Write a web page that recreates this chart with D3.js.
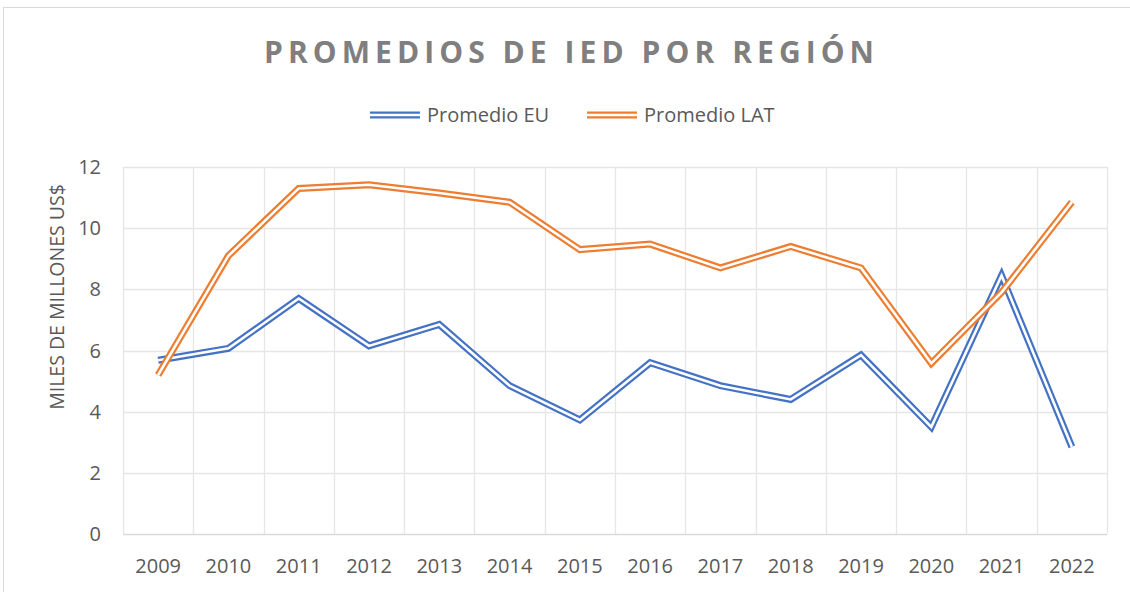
<!DOCTYPE html>
<html lang="es">

<head>
    <meta charset="UTF-8">
    <title>Promedios de IED por región</title>
    <script src="https://d3js.org/d3.v7.min.js"></script>
    <style>
        body { margin: 0; background: #fff; }
        text { font-family: "Open Sans", "Liberation Sans", sans-serif; }
    </style>
</head>

<body>
    <script>
        var years = ["2009", "2010", "2011", "2012", "2013", "2014", "2015",
            "2016", "2017", "2018", "2019", "2020", "2021", "2022"];
        var promedioEU = [5.68, 6.07, 7.7, 6.15, 6.85, 4.85, 3.73, 5.6, 4.85, 4.4, 5.85, 3.5, 8.45, 2.85];
        var promedioLAT = [5.2, 9.1, 11.3, 11.42, 11.15, 10.85, 9.3, 9.48, 8.7, 9.4, 8.7, 5.58, 7.9, 10.85];
        var yTicks = [0, 2, 4, 6, 8, 10, 12];

        var series = [
            { name: "Promedio EU", values: promedioEU, color: "#4472C4" },
            { name: "Promedio LAT", values: promedioLAT, color: "#ED7D31" }
        ];

        var width = 1130;
        var height = 592;
        var margin = { top: 167, right: 23, bottom: 58, left: 123 };

        var svg = d3.select("body")
            .append("svg")
            .attr("width", width)
            .attr("height", height);

        // chart frame
        svg.append("rect")
            .attr("x", 3.5)
            .attr("y", 7.5)
            .attr("width", 1200)
            .attr("height", 700)
            .attr("fill", "#fff")
            .attr("stroke", "#d9d9d9");

        var x = d3.scaleBand()
            .domain(years)
            .range([margin.left, width - margin.right]);
        var y = d3.scaleLinear()
            .domain([0, 12])
            .range([height - margin.bottom, margin.top]);

        // horizontal gridlines
        svg.append("g")
            .selectAll("line")
            .data(yTicks.filter(d => d > 0))
            .enter()
            .append("line")
            .attr("x1", margin.left)
            .attr("x2", width - margin.right)
            .attr("y1", d => Math.round(y(d)) + 0.5)
            .attr("y2", d => Math.round(y(d)) + 0.5)
            .attr("stroke", "#e6e6e6")
            .attr("stroke-width", 1.3);

        // vertical gridlines at category boundaries
        svg.append("g")
            .selectAll("line")
            .data(years)
            .enter()
            .append("line")
            .attr("x1", d => Math.round(x(d) + x.bandwidth()) + 0.5)
            .attr("x2", d => Math.round(x(d) + x.bandwidth()) + 0.5)
            .attr("y1", y(12))
            .attr("y2", y(0))
            .attr("stroke", "#e6e6e6")
            .attr("stroke-width", 1.3);

        // y axis line + x axis line
        svg.append("line")
            .attr("x1", margin.left + 0.5).attr("x2", margin.left + 0.5)
            .attr("y1", y(12)).attr("y2", y(0))
            .attr("stroke", "#e6e6e6").attr("stroke-width", 1.3);
        svg.append("line")
            .attr("x1", margin.left).attr("x2", width - margin.right)
            .attr("y1", Math.round(y(0)) + 0.5).attr("y2", Math.round(y(0)) + 0.5)
            .attr("stroke", "#d9d9d9").attr("stroke-width", 1.5);

        // y tick labels
        svg.append("g")
            .selectAll("text")
            .data(yTicks)
            .enter()
            .append("text")
            .attr("x", 101)
            .attr("y", d => y(d))
            .attr("dy", "0.35em")
            .attr("text-anchor", "end")
            .style("font-size", "20px")
            .style("fill", "#595959")
            .text(d => d);

        // x tick labels
        svg.append("g")
            .selectAll("text")
            .data(years)
            .enter()
            .append("text")
            .attr("x", d => x(d) + x.bandwidth() / 2)
            .attr("y", 573)
            .attr("text-anchor", "middle")
            .style("font-size", "20px")
            .style("fill", "#595959")
            .text(d => d);

        // y axis title
        svg.append("text")
            .attr("transform", "translate(64,297) rotate(-90)")
            .attr("text-anchor", "middle")
            .style("font-size", "19.5px")
            .style("fill", "#595959")
            .text("MILES DE MILLONES US$");

        // title
        svg.append("text")
            .attr("x", 569)
            .attr("y", 63)
            .attr("text-anchor", "middle")
            .attr("textLength", 610)
            .attr("lengthAdjust", "spacing")
            .style("font-size", "30px")
            .style("font-weight", "bold")
            .style("fill", "#7f7f7f")
            .text("PROMEDIOS DE IED POR REGIÓN");

        // double lines (colored wide stroke with white core)
        var line = d3.line()
            .x((d, i) => x(years[i]) + x.bandwidth() / 2)
            .y(d => y(d));

        var lines = svg.append("g");
        series.forEach(s => {
            lines.append("path")
                .attr("d", line(s.values))
                .attr("fill", "none")
                .attr("stroke", s.color)
                .attr("stroke-width", 7)
                .attr("stroke-linejoin", "miter")
                .attr("stroke-linecap", "butt");
            lines.append("path")
                .attr("d", line(s.values))
                .attr("fill", "none")
                .attr("stroke", "#fff")
                .attr("stroke-width", 2.6)
                .attr("stroke-linejoin", "miter")
                .attr("stroke-linecap", "butt");
        });

        // legend
        var legendPos = [370, 587];
        series.forEach((s, i) => {
            var g = svg.append("g").attr("transform", "translate(" + legendPos[i] + ",115)");
            g.append("line")
                .attr("x1", 0).attr("x2", 50)
                .attr("stroke", s.color).attr("stroke-width", 7);
            g.append("line")
                .attr("x1", 0).attr("x2", 50)
                .attr("stroke", "#fff").attr("stroke-width", 2.6);
            g.append("text")
                .attr("x", 57)
                .attr("dy", "0.35em")
                .style("font-size", "20px")
                .style("fill", "#595959")
                .text(s.name);
        });
    </script>
</body>

</html>
